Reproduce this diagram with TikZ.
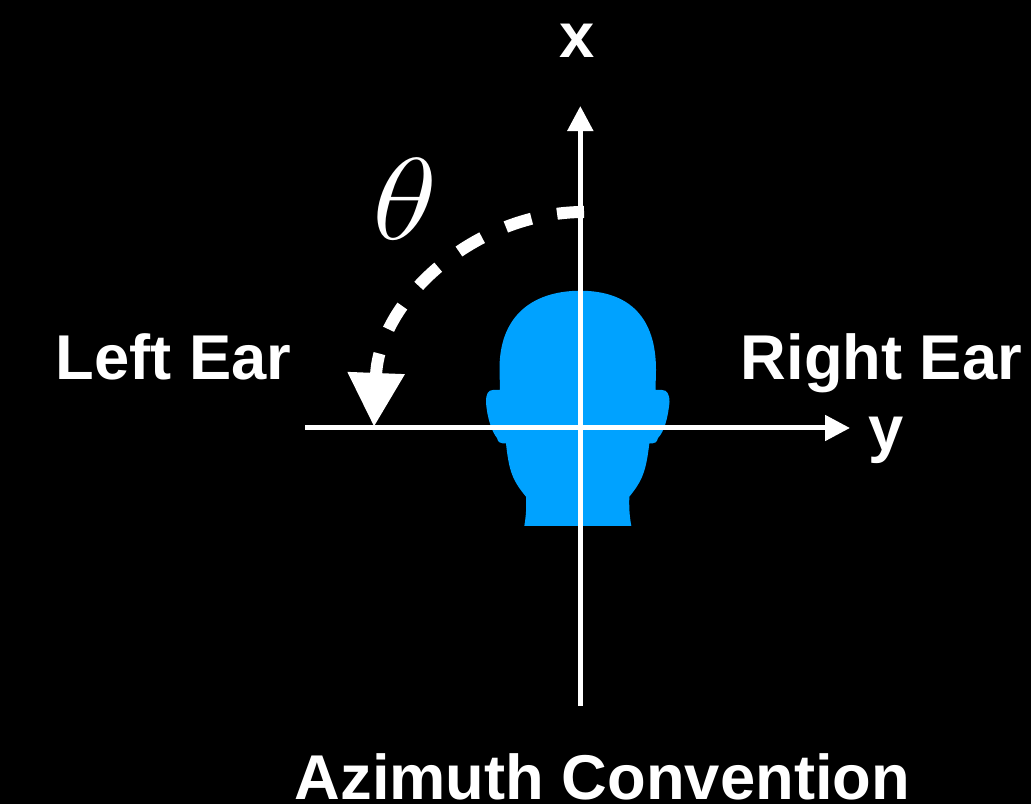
\documentclass[tikz,border=0pt]{standalone}
\usepackage{fontspec}
\setmainfont{Liberation Sans}
\usepackage{amsmath}
\usepackage{xcolor}
\usetikzlibrary{arrows.meta,positioning}
\definecolor{headblue}{HTML}{00A2FF}

\begin{document}
\begin{tikzpicture}[x=0.01cm,y=-0.01cm,
  axisline/.style={white, line width=0.05cm, -{Triangle[length=0.25cm,width=0.25cm]}},
  sweepline/.style={white, line width=0.12cm, dash pattern=on 0.27cm off 0.26cm,
    -{Triangle[length=0.54cm,width=0.54cm]}},
  earlabel/.style={anchor=base west, inner sep=0pt, white, font=\fontsize{18}{20}\selectfont\bfseries},
  axislabel/.style={anchor=base, inner sep=0pt, white, font=\fontsize{18}{20}\selectfont\bfseries}]
\useasboundingbox (0,0) rectangle (1031,804);
\fill[black] (0,0) rectangle (1031,804);

% ================= head =================
\fill[headblue] (580.3,290.7)
  .. controls (530,291) and (499,318) .. (499.5,370) -- (500,390)
  -- (493,390) .. controls (488,390) and (486,394) .. (486,402)
  .. controls (487,418) and (492,432) .. (497,438)
  .. controls (498,442) and (500,443.5) .. (503,443.5) -- (506,443.5)
  .. controls (509,472) and (513,481) .. (526,496.7)
  .. controls (526.5,508) and (526,516) .. (524.3,526)
  -- (631.3,526)
  .. controls (629.5,516) and (629,508) .. (629.3,496.7)
  .. controls (642,481) and (646,472) .. (649.3,443.5) -- (652,443.5)
  .. controls (655,443.5) and (657,442) .. (658,438)
  .. controls (664,432) and (668,418) .. (669.5,402)
  .. controls (669.5,394) and (667,390) .. (662,390)
  -- (655.5,390) -- (656,370)
  .. controls (656,318) and (630,291) .. (580.3,290.7) -- cycle;

% ================= axes =================
\coordinate (xtail) at (580.3,706);
\coordinate (xtip) at (580.3,106);
\coordinate (ytail) at (305,428);
\coordinate (ytip) at (850,428);
\draw[axisline] (xtail) -- (xtip);
\draw[axisline] (ytail) -- (ytip);

% ---------- angle sweep ----------
\coordinate (sweepstart) at (584,212);
\coordinate (sweepend) at (374,427);
\draw[sweepline] (sweepstart) .. controls (475,212) and (379,300) .. (sweepend);

% ================= labels =================
\node[axislabel] (xlabel) at (577,58) {x};
\node[axislabel] (ylabel) at (886,451) {y};
\node[earlabel] (leftear) at (55,380) {Left Ear};
\node[earlabel] (rightear) at (740,380) {Right Ear};
\node[anchor=base, inner sep=0pt, xscale=1.54, yscale=1.33, white, font=\fontsize{24}{28}\selectfont] (thetalabel) at (405,240) {$\theta$};
\node[earlabel] (captionlabel) at (294,799) {Azimuth Convention};
\end{tikzpicture}
\end{document}
